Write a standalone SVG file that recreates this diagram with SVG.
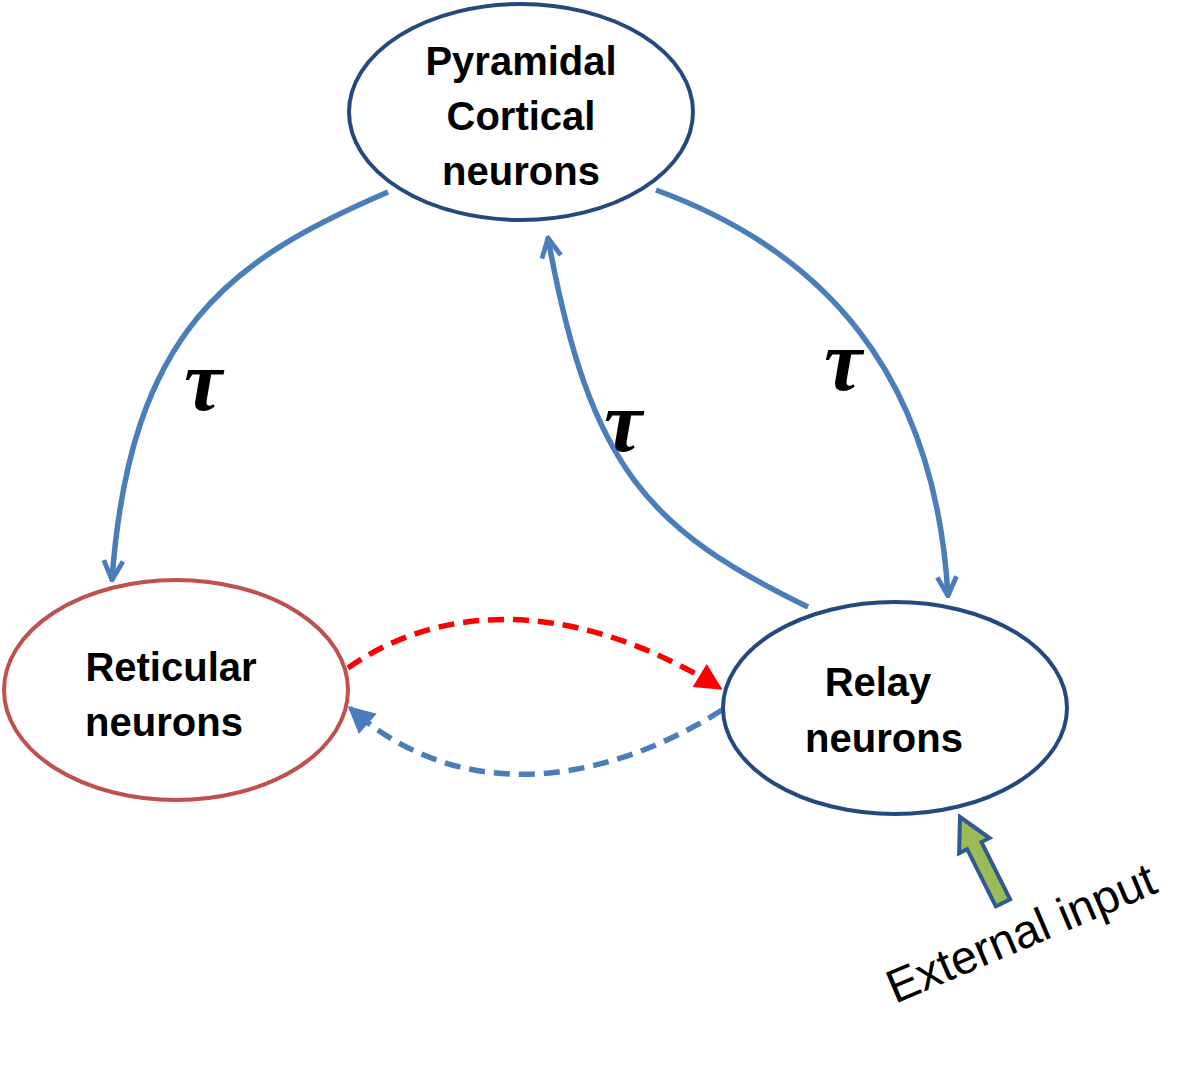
<svg xmlns="http://www.w3.org/2000/svg" width="1200" height="1082" viewBox="0 0 1200 1082">
<style>
.node{fill:#fff;stroke-width:4}
.blue{stroke:#24497f}
.red{stroke:#c0504d}
.lbl{font-family:"Liberation Sans",Arial,sans-serif;font-weight:bold;font-size:40px;fill:#000;text-anchor:middle}
.tau{font-family:"Liberation Serif","Times New Roman",serif;font-weight:bold;font-style:italic;font-size:86px;fill:#000}
.conn{fill:none;stroke-width:5.5}
.cb{stroke:#4a7ebb}
.cr{stroke:#ff0000}
.dash{stroke-dasharray:16 9}
</style>
<defs>
<marker id="ab" viewBox="0 0 20 20" refX="18" refY="10" markerWidth="24" markerHeight="24" markerUnits="userSpaceOnUse" orient="auto">
<path d="M2,2 L18,10 L2,18" fill="none" stroke="#4a7ebb" stroke-width="4"/>
</marker>
<marker id="ar" viewBox="0 0 20 20" refX="18" refY="10" markerWidth="28" markerHeight="28" markerUnits="userSpaceOnUse" orient="auto">
<path d="M2,2 L18,10 L2,18 Z" fill="#ff0000" stroke="#ff0000" stroke-width="2"/>
</marker>
<marker id="abf" viewBox="0 0 20 20" refX="18" refY="10" markerWidth="28" markerHeight="28" markerUnits="userSpaceOnUse" orient="auto">
<path d="M2,2 L18,10 L2,18 Z" fill="#4a7ebb" stroke="#4a7ebb" stroke-width="2"/>
</marker>
</defs>
<rect width="1200" height="1082" fill="#fff"/>
<g id="connectors">
<path class="conn cb" d="M388,192 C230,260 130,330 112,580" marker-end="url(#ab)"/>
<path class="conn cb" d="M656,190 C820,250 935,370 948,596" marker-end="url(#ab)"/>
<path class="conn cb" d="M808,607 C650,530 590,470 548,238" marker-end="url(#ab)"/>
<path class="conn cr dash" d="M348,668 C430,610 560,590 720,688" marker-end="url(#ar)"/>
<path class="conn cb dash" d="M722,710 C620,775 470,815 350,708" marker-end="url(#abf)"/>
</g>
<g id="node-pyramidal">
<ellipse class="node blue" cx="521" cy="112" rx="172" ry="108"/>
<text class="lbl" x="521" y="75">Pyramidal</text>
<text class="lbl" x="521" y="130">Cortical</text>
<text class="lbl" x="521" y="185">neurons</text>
</g>
<g id="node-reticular">
<ellipse class="node red" cx="176" cy="690" rx="172" ry="110"/>
<text class="lbl" x="171" y="681">Reticular</text>
<text class="lbl" x="164" y="736">neurons</text>
</g>
<g id="node-relay">
<ellipse class="node blue" cx="895" cy="708" rx="172" ry="106"/>
<text class="lbl" x="878" y="696">Relay</text>
<text class="lbl" x="884" y="752">neurons</text>
</g>
<g id="labels">
<text class="tau" x="184" y="410">τ</text>
<text class="tau" x="824" y="390">τ</text>
<text class="tau" x="604" y="451">τ</text>
</g>
<g id="external-input">
<polygon transform="translate(960,817) rotate(-26.6)" points="0,0 17,32 8,32 8,96 -8,96 -8,32 -17,32" fill="#9bbb59" stroke="#2f5a8f" stroke-width="4" stroke-linejoin="miter"/>
<text transform="translate(895,1004) rotate(-23)" font-family="Liberation Sans,Arial,sans-serif" font-size="47" fill="#000">External input</text>
</g>
</svg>
